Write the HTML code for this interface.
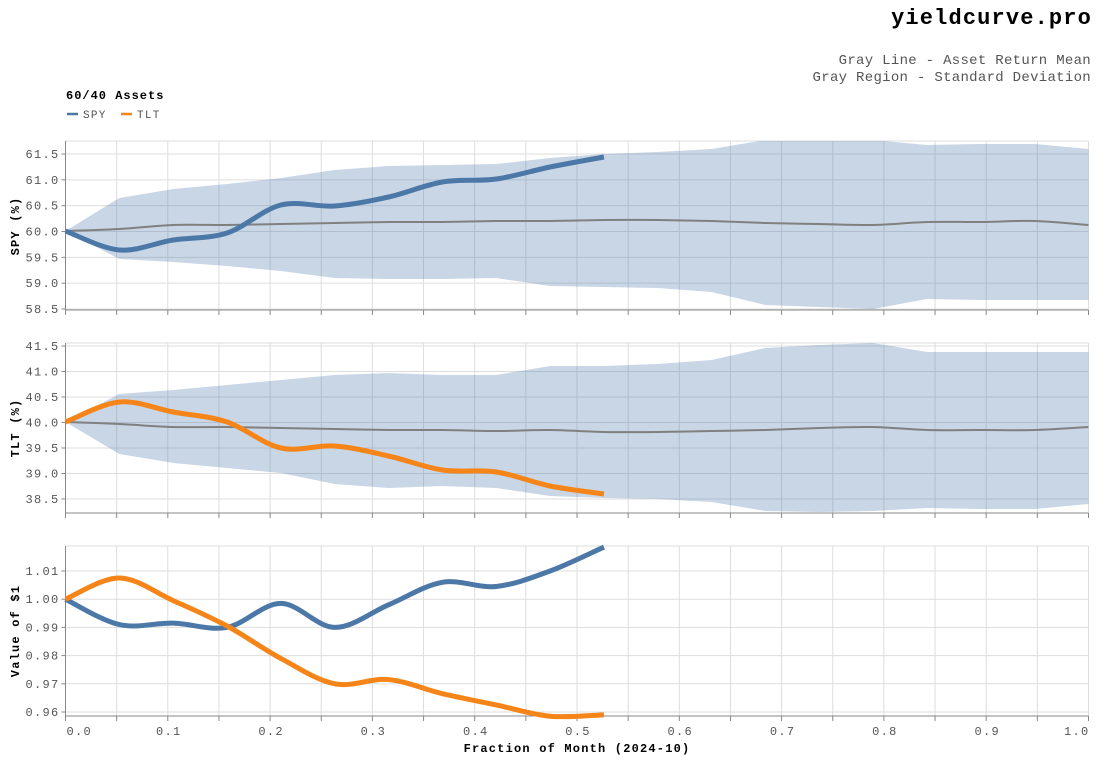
<!DOCTYPE html>
<html><head><meta charset="utf-8"><style>
body{margin:0;background:#fff;}
svg{display:block;font-family:"Liberation Mono",monospace;}
</style></head><body>
<svg id="s" width="1097" height="761" xmlns="http://www.w3.org/2000/svg">
<defs>
<clipPath id="c1"><rect x="65.5" y="141" width="1023" height="169"/></clipPath>
<clipPath id="c2"><rect x="65.5" y="343" width="1023" height="170"/></clipPath>
<clipPath id="c3"><rect x="65.5" y="546" width="1023" height="170"/></clipPath>
</defs>
<text x="1092" y="24" text-anchor="end" font-size="22" font-weight="bold" fill="#000" letter-spacing="1.15">yieldcurve.pro</text>
<text x="1091" y="64" text-anchor="end" font-size="14" fill="#555" letter-spacing="0.3">Gray Line - Asset Return Mean</text>
<text x="1091" y="81" text-anchor="end" font-size="14" fill="#555" letter-spacing="0.3">Gray Region - Standard Deviation</text>
<text x="66" y="99" font-size="12" font-weight="bold" fill="#000" letter-spacing="1">60/40 Assets</text>
<line x1="67" y1="114" x2="78" y2="114" stroke="#4c78a8" stroke-width="2.5"/>
<text x="83" y="118" font-size="11" fill="#555" letter-spacing="1.3">SPY</text>
<line x1="121" y1="114" x2="132" y2="114" stroke="#f58518" stroke-width="2.5"/>
<text x="137" y="118" font-size="11" fill="#555" letter-spacing="1.3">TLT</text>
<g id="g"></g>
<text x="577" y="752" text-anchor="middle" font-size="12" font-weight="bold" fill="#000" letter-spacing="1.2">Fraction of Month (2024-10)</text>
</svg>
<script>
const NS="http://www.w3.org/2000/svg";
const g=document.getElementById('g');
function el(t,a,txt){const e=document.createElementNS(NS,t);for(const k in a)e.setAttribute(k,a[k]);if(txt!==undefined)e.textContent=txt;g.appendChild(e);return e;}
const X0=65.5,XW=1023;
const xs=i=>X0+i*XW/19;
function smooth(pts){let d=`M${pts[0][0]},${pts[0][1]}`;for(let i=0;i<pts.length-1;i++){const p0=pts[i-1]||pts[i],p1=pts[i],p2=pts[i+1],p3=pts[i+2]||p2;
const c1=[p1[0]+(p2[0]-p0[0])/6,p1[1]+(p2[1]-p0[1])/6],c2=[p2[0]-(p3[0]-p1[0])/6,p2[1]-(p3[1]-p1[1])/6];d+=`C${c1[0]},${c1[1]} ${c2[0]},${c2[1]} ${p2[0]},${p2[1]}`;}return d;}
function lin(pts){return 'M'+pts.map(p=>p[0]+','+p[1]).join('L');}
function panel(top,bot,ticks,clip,title,tcy){
 for(let k=0;k<=20;k++){const x=X0+k*XW/20;el('line',{x1:x,y1:top,x2:x,y2:bot,stroke:'#ddd','stroke-width':1});}
 el('line',{x1:X0,y1:top,x2:X0+XW,y2:top,stroke:'#ddd'});
 for(const [y,l] of ticks){el('line',{x1:X0,y1:y,x2:X0+XW,y2:y,stroke:'#ddd'});el('line',{x1:X0-4,y1:y,x2:X0,y2:y,stroke:'#888'});el('text',{x:X0-6,y:y+4,'text-anchor':'end','font-size':12,fill:'#555','letter-spacing':1.3},l);}
 el('line',{x1:X0,y1:top,x2:X0,y2:bot,stroke:'#888'});
 el('line',{x1:X0,y1:bot,x2:X0+XW,y2:bot,stroke:'#888'});
 for(let k=0;k<=20;k++){const x=X0+k*XW/20;el('line',{x1:x,y1:bot,x2:x,y2:bot+5,stroke:'#888'});}
 el('text',{x:0,y:0,transform:`translate(19,${tcy}) rotate(-90)`,'text-anchor':'middle','font-size':12,'font-weight':'bold',fill:'#000','letter-spacing':1.2},title);
}
function band(up,lo,mean,clip){
 const U=up.map((y,i)=>[xs(i),y]),L=lo.map((y,i)=>[xs(i),y]).reverse();
 el('path',{d:lin(U)+'L'+L.map(p=>p[0]+','+p[1]).join('L')+'Z',fill:'#4c78a8','fill-opacity':0.3,'clip-path':`url(#${clip})`});
 el('path',{d:smooth(mean.map((y,i)=>[xs(i),y])),fill:'none',stroke:'#808080','stroke-width':2});
}
const t1=[];for(let v=58.5;v<=61.51;v+=0.5)t1.push([309-(v-58.5)*51.67,v.toFixed(1)]);
panel(141,310,t1,'c1','SPY (%)',226);
band([231,198,189,184,178,170,166,165,164,158,154,152,149,140,139,140,145,144,144,149],
 [231,259,262,266,271,278,279,279,278,286,287,288,292,305,307,309,299,300,300,300],
 [231,229,225,225,224,223,222,222,221,221,220,220,221,223,224,225,222,222,221,225],'c1');
el('path',{d:smooth([231,250,240,233,205,206,197,182,179,167,157].map((y,i)=>[xs(i),y])),fill:'none',stroke:'#4c78a8','stroke-width':5});
const t2=[];for(let v=38.5;v<=41.51;v+=0.5)t2.push([499-(v-38.5)*51,v.toFixed(1)]);
panel(343,513,t2,'c2','TLT (%)',428);
band([422,394,390,385,380,375,373,375,375,366,366,364,360,348,345,343,352,352,352,352],
 [422,454,463,468,473,484,488,486,488,496,498,499,502,511,512,511,508,509,509,504],
 [422,424,427,427,428,429,430,430,431,430,432,432,431,430,428,427,430,430,430,427],'c2');
el('path',{d:smooth([422,402,412,422,448,446,456,470,472,486,494].map((y,i)=>[xs(i),y])),fill:'none',stroke:'#f58518','stroke-width':5});
const yv=v=>571+(1.01-v)*2820;
const t3=[];[0.96,0.97,0.98,0.99,1.00,1.01].forEach(v=>t3.push([yv(v),v.toFixed(2)]));
panel(546,716,t3,'c3','Value of $1',631);
for(let k=0;k<=10;k++){const x=X0+k*XW/10;let a='middle',xx=x+1;if(k==0){a='start';xx=x+1;}if(k==10){a='end';xx=x+1;}
 el('text',{x:xx,y:735,'text-anchor':a,'font-size':12,fill:'#555','letter-spacing':1.3},(k/10).toFixed(1));}
el('path',{d:smooth([1.0,0.991,0.9915,0.990,0.9985,0.990,0.998,1.006,1.0045,1.010,1.0185].map((v,i)=>[xs(i),yv(v)])),fill:'none',stroke:'#4c78a8','stroke-width':5});
el('path',{d:smooth([1.0,1.0075,0.9995,0.9905,0.979,0.970,0.9715,0.9665,0.9625,0.9585,0.959].map((v,i)=>[xs(i),yv(v)])),fill:'none',stroke:'#f58518','stroke-width':5});
</script>
</body></html>
